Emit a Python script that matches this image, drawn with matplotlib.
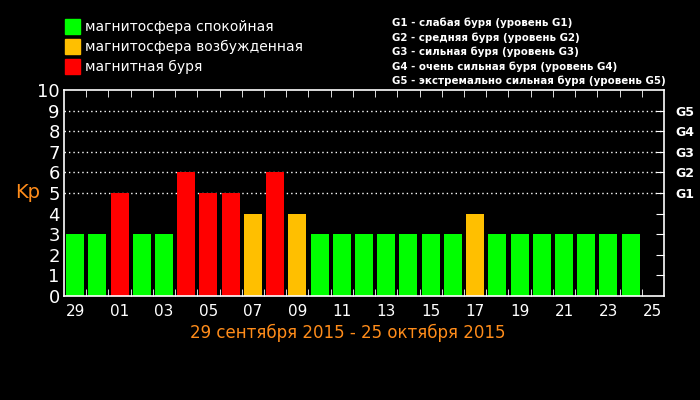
import numpy as np
import matplotlib.pyplot as plt

# data
days = ['29', '30', '01', '02', '03', '04', '05', '06', '07', '08', '09', '10',
        '11', '12', '13', '14', '15', '16', '17', '18', '19', '20', '21', '22',
        '23', '24', '25']
kp = [3, 3, 5, 3, 3, 6, 5, 5, 4, 6, 4, 3, 3, 3, 3, 3, 3, 3, 4, 3, 3, 3, 3, 3, 3, 3]
g_labels = ['G1', 'G2', 'G3', 'G4', 'G5']
g_desc = ['G1 - слабая буря (уровень G1)',
          'G2 - средняя буря (уровень G2)',
          'G3 - сильная буря (уровень G3)',
          'G4 - очень сильная буря (уровень G4)',
          'G5 - экстремально сильная буря (уровень G5)']
legend_items = ['магнитосфера спокойная', 'магнитосфера возбужденная', 'магнитная буря']

GREEN = '#00ff00'
ORANGE = '#ffbf00'
RED = '#ff0000'
TXT_OR = '#ff8c1a'

def bar_color(v):
    if v >= 5:
        return RED
    if v >= 4:
        return ORANGE
    return GREEN

fig = plt.figure(figsize=(7, 4), dpi=100, facecolor='black')
ax = fig.add_axes([64/700, 1 - 296/400, 600/700, 206/400])
ax.set_facecolor('black')

x = np.arange(len(kp))
ax.bar(x, kp, width=0.81, color=[bar_color(v) for v in kp], zorder=2)

ax.set_xlim(-0.5, len(days) - 0.5)
ax.set_ylim(0, 10)

# dotted lines for storm levels
for lvl in range(5, 10):
    ax.axhline(lvl, color='white', lw=1, ls=(0, (1, 2.2)), zorder=1)

for sp in ax.spines.values():
    sp.set_color('white')
    sp.set_linewidth(1.2)

ax.set_xticks(np.arange(len(days))[::2])
ax.set_xticklabels(days[::2], color='white', fontsize=11)
ax.set_xticks(np.arange(len(days) - 1) + 0.5, minor=True)
ax.tick_params(axis='x', which='major', length=0, pad=6)
ax.tick_params(axis='x', which='minor', direction='in', length=5, color='white',
               top=True, bottom=True)

ax.set_yticks(range(0, 11))
ax.set_yticklabels([str(i) for i in range(11)], color='white', fontsize=13)
ax.tick_params(axis='y', which='major', length=0, pad=3)

# right side ticks and G labels
ax2 = ax.twinx()
ax2.set_ylim(0, 10)
ax2.set_yticks(range(1, 10))
ax2.set_yticklabels([''] * 4 + g_labels, color='white', fontsize=9,
                    fontweight='bold')
ax2.tick_params(axis='y', direction='in', length=6, color='white', pad=8)
for sp in ax2.spines.values():
    sp.set_visible(False)

fig.text(28/700, 1 - 193/400, 'Kp', color=TXT_OR, fontsize=14,
         ha='center', va='center')
fig.text(0.497, 1 - 333/400, '29 сентября 2015 - 25 октября 2015', color=TXT_OR,
         fontsize=12, ha='center', va='center')

# legend top left
for i, (lab, c) in enumerate(zip(legend_items, [GREEN, ORANGE, RED])):
    yc = 27 + i * 20
    fig.patches.append(plt.Rectangle((65/700, 1 - (yc + 7)/400), 15/700, 15/400,
                                     transform=fig.transFigure, color=c,
                                     figure=fig))
    fig.text(85/700, 1 - yc/400, lab, color='white', fontsize=10,
             ha='left', va='center')

# storm levels description
for i, d in enumerate(g_desc):
    fig.text(392/700, 1 - (23 + i * 14.5)/400, d, color='white', fontsize=7.4,
             fontweight='bold', ha='left', va='center')

fig.savefig('out.png', facecolor='black')
